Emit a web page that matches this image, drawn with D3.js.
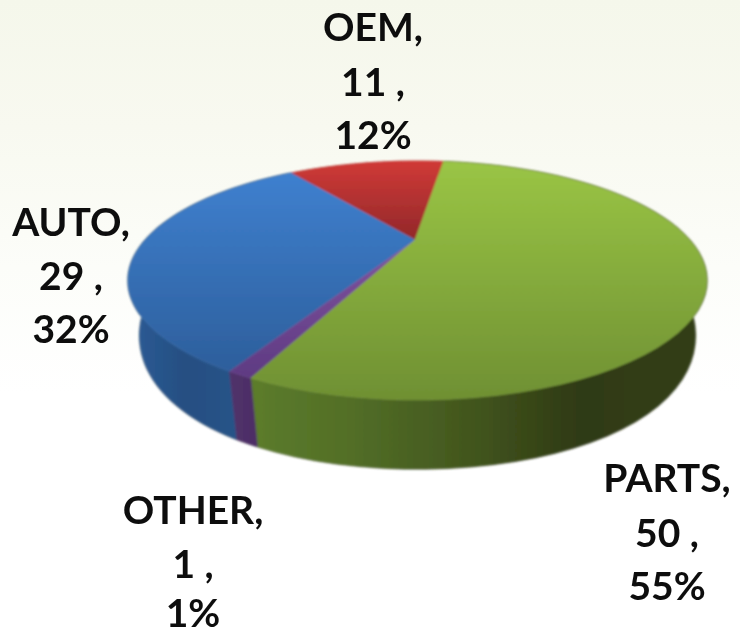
<!DOCTYPE html>
<html>
<head>
<meta charset="utf-8">
<script src="https://cdnjs.cloudflare.com/ajax/libs/d3/7.8.5/d3.min.js"></script>
<style>html,body{margin:0;padding:0;background:#fff}svg{display:block}</style>
</head>
<body>
<svg id="chart" width="740" height="636"></svg>
<script>
const categories = ["PARTS", "OTHER", "AUTO", "OEM"];
const values = [50, 1, 29, 11];
const percents = ["55%", "1%", "32%", "12%"];
const topColors = [["#9ac545", "#6f9033"], ["#80539f", "#5e3a82"], ["#3f80cf", "#2d5f9c"], ["#d03a37", "#92282a"]];
const sideStops = [
  [[0, "#5c7c2b"], [0.22, "#526e27"], [0.5, "#41541d"], [0.72, "#2f3a14"], [1, "#333f15"]],
  [[0, "#51316b"], [1, "#4c2e64"]],
  [[0, "#2b5b96"], [0.5, "#264f82"], [1, "#285388"]],
  [[0, "#8a2523"], [1, "#8a2523"]]
];
const labelX = [667, 193, 71, 373];
const labelY = [[477, 532, 585], [509, 563, 612], [221, 275, 328], [26, 81, 134]];

const W = 740, H = 636;
const svg = d3.select("#chart");
const defs = svg.append("defs");

const bg = defs.append("linearGradient").attr("id", "bg").attr("x1", 0).attr("y1", 0).attr("x2", 0).attr("y2", 1);
[[0, "#f5f7eb"], [0.2, "#f8f9f0"], [0.42, "#fcfdf9"], [0.62, "#ffffff"], [1, "#ffffff"]]
  .forEach(([o, c]) => bg.append("stop").attr("offset", o).attr("stop-color", c));
svg.append("rect").attr("width", W).attr("height", H).attr("fill", "url(#bg)");

const addBlur = (id, sd) => defs.append("filter").attr("id", id).attr("x", "-10%").attr("y", "-10%").attr("width", "120%").attr("height", "120%")
  .append("feGaussianBlur").attr("stdDeviation", sd);
addBlur("soft", 0.9);
addBlur("softText", 0.55);
addBlur("shadow", 1.6);

// perspective projection of the pie disc
const rimCx = 417.5, apexX = 415, cy = 240, A = 105.8, B = 272.4, P = 0.339;
const DEPTH_X = 0.96, FRONT_DEPTH = 69, DEPTH_FALL = 14, FRONT_Y = 400, FALL_SPAN = 120;
function rim(theta) {
  const u = Math.sin(theta), v = Math.cos(theta), s = 1 / (1 + P * v);
  return [rimCx + B * u * s, cy - A * v * s];
}
function lowerRim(theta) {
  const [x, y] = rim(theta);
  const f = (FRONT_Y - y) / FALL_SPAN;
  return [rimCx + (x - rimCx) * DEPTH_X, y + FRONT_DEPTH - DEPTH_FALL * f * f];
}
const start = 7.3 * Math.PI / 180;
const pie = d3.pie().sort(null).startAngle(start).endAngle(start + 2 * Math.PI);
const arcs = pie(values);
const line = d3.line();
const samples = a => d3.range(0, 61).map(i => a.startAngle + (a.endAngle - a.startAngle) * i / 60);

arcs.forEach((a, i) => {
  const sg = defs.append("linearGradient").attr("id", "side" + i).attr("gradientUnits", "userSpaceOnUse")
    .attr("x1", [252, 226, 130, 290][i]).attr("x2", [706, 262, 237, 441][i]).attr("y1", 0).attr("y2", 0);
  sideStops[i].forEach(([o, c]) => sg.append("stop").attr("offset", o).attr("stop-color", c));
  const tg = defs.append("linearGradient").attr("id", "top" + i).attr("gradientUnits", "userSpaceOnUse")
    .attr("x1", 0).attr("x2", 0).attr("y1", [161, 240, 173, 161][i]).attr("y2", [400, 380, 370, 240][i]);
  topColors[i].forEach((c, j) => tg.append("stop").attr("offset", j).attr("stop-color", c));
});

const sidePoly = i => {
  const pts = samples(arcs[i]);
  return pts.map(rim).concat(pts.slice().reverse().map(lowerRim));
};

// faint fringe around the side wall
const fringe = svg.append("g").attr("filter", "url(#shadow)").attr("opacity", 0.45);
[2, 0, 1].forEach(i => {
  fringe.append("path").datum(sidePoly(i)).attr("d", d => line(d) + "Z").attr("fill", "#444");
});

const g = svg.append("g").attr("filter", "url(#soft)");
// sides, back to front
[3, 2, 0, 1].forEach(i => {
  g.append("path").datum(sidePoly(i)).attr("d", d => line(d) + "Z")
    .attr("fill", `url(#side${i})`).attr("stroke", `url(#side${i})`).attr("stroke-width", 0.6);
});
// top faces
[3, 2, 1, 0].forEach(i => {
  const poly = [[apexX, cy]].concat(samples(arcs[i]).map(rim));
  g.append("path").datum(poly).attr("d", d => line(d) + "Z")
    .attr("fill", `url(#top${i})`).attr("stroke", `url(#top${i})`).attr("stroke-width", 0.5);
});

const labels = svg.append("g").attr("filter", "url(#softText)")
  .attr("font-family", "Lato, 'Open Sans', sans-serif").attr("font-weight", 700)
  .attr("font-size", 39).attr("fill", "#0c0c0c").attr("text-anchor", "middle");
categories.forEach((c, i) => {
  const lines = [c + ",", values[i] + " ,", percents[i]];
  lines.forEach((t, j) => {
    labels.append("text").attr("x", labelX[i]).attr("y", labelY[i][j])
      .attr("dominant-baseline", "central").text(t);
  });
});
</script>
</body>
</html>
